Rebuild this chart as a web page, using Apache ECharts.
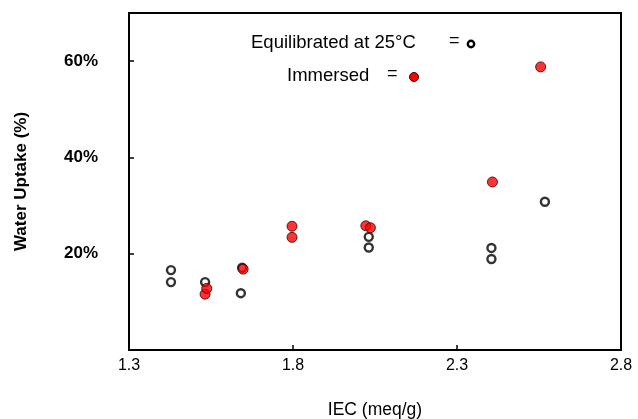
<!DOCTYPE html>
<html>
<head>
<meta charset="utf-8">
<script src="https://cdn.jsdelivr.net/npm/echarts@6/dist/echarts.min.js"></script>
<style>html,body{margin:0;padding:0;background:#fff}#c{width:638px;height:419px}</style>
</head>
<body>
<div id="c"></div>
<script>
// IEC (meq/g) vs water uptake (%)
var equilibratedIEC = [1.428, 1.428, 1.532, 1.641, 1.645, 2.031, 2.031, 2.405, 2.405, 2.568];
var equilibratedUptake = [16.6, 14.1, 14.1, 11.8, 17.1, 23.5, 21.3, 21.2, 18.9, 30.8];
var immersedIEC = [1.532, 1.537, 1.648, 1.797, 1.797, 2.022, 2.036, 2.408, 2.555];
var immersedUptake = [11.6, 12.8, 16.8, 25.7, 23.4, 25.8, 25.4, 34.9, 58.8];
var xTickLabels = [1.3, 1.8, 2.3, 2.8];
var xTickMarks = [1.8, 2.3];
var yTickValues = [20, 40, 60];

function pairs(xs, ys) { return xs.map(function (x, i) { return [x, ys[i]]; }); }

var chart = echarts.init(document.getElementById('c'), null, {renderer: 'canvas'});
var font = 'Liberation Sans, Arial, sans-serif';
chart.setOption({
  animation: false,
  backgroundColor: '#fff',
  grid: {left: 129, right: 17, top: 13, bottom: 69, outerBoundsMode: 'none', containLabel: false,
    show: true, borderColor: '#000', borderWidth: 2, backgroundColor: 'transparent'},
  xAxis: {
    type: 'value', min: 1.3, max: 2.8,
    name: 'IEC (meq/g)', nameLocation: 'middle', nameGap: 51,
    nameTextStyle: {fontFamily: font, fontSize: 17.5, color: '#000'},
    axisLine: {lineStyle: {color: '#000', width: 2}},
    axisTick: {inside: true, length: 5, customValues: xTickMarks, lineStyle: {color: '#000', width: 1.5}},
    axisLabel: {customValues: xTickLabels, fontFamily: font, fontSize: 16, color: '#000', margin: 8,
      formatter: function (v) { return v.toFixed(1); }},
    splitLine: {show: false}
  },
  yAxis: {
    type: 'value', min: 0, max: 70,
    name: 'Water Uptake (%)', nameLocation: 'middle', nameGap: 99, nameRotate: 90,
    nameTextStyle: {fontFamily: font, fontSize: 17, fontWeight: 'bold', color: '#000'},
    axisLine: {lineStyle: {color: '#000', width: 2}},
    axisTick: {inside: true, length: 5, customValues: yTickValues, lineStyle: {color: '#000', width: 1.5}},
    axisLabel: {customValues: yTickValues, fontFamily: font, fontSize: 17, fontWeight: 'bold', color: '#000', margin: 31,
      formatter: '{value}%'},
    splitLine: {show: false}
  },
  series: [
    {
      name: 'Equilibrated at 25°C', type: 'scatter', data: pairs(equilibratedIEC, equilibratedUptake),
      symbol: 'circle', symbolSize: 8,
      itemStyle: {color: '#fff', borderColor: '#000', borderWidth: 2.4}
    },
    {
      name: 'Immersed', type: 'scatter', data: pairs(immersedIEC, immersedUptake),
      symbol: 'circle', symbolSize: 10,
      itemStyle: {color: '#f00', borderColor: '#300', borderWidth: 1}
    }
  ],
  graphic: [
    {type: 'text', left: 251, top: 33, style: {text: 'Equilibrated at 25°C', font: '18.5px ' + font, fill: '#000'}},
    {type: 'text', left: 449, top: 32, style: {text: '=', font: '18px ' + font, fill: '#000'}},
    {type: 'circle', shape: {cx: 471, cy: 44, r: 3.2}, style: {fill: '#fff', stroke: '#000', lineWidth: 2.4}},
    {type: 'text', left: 287, top: 66, style: {text: 'Immersed', font: '18.5px ' + font, fill: '#000'}},
    {type: 'text', left: 387, top: 65, style: {text: '=', font: '18px ' + font, fill: '#000'}},
    {type: 'circle', shape: {cx: 414, cy: 77, r: 4.5}, style: {fill: '#f00', stroke: '#300', lineWidth: 1}}
  ]
});
</script>
</body>
</html>
